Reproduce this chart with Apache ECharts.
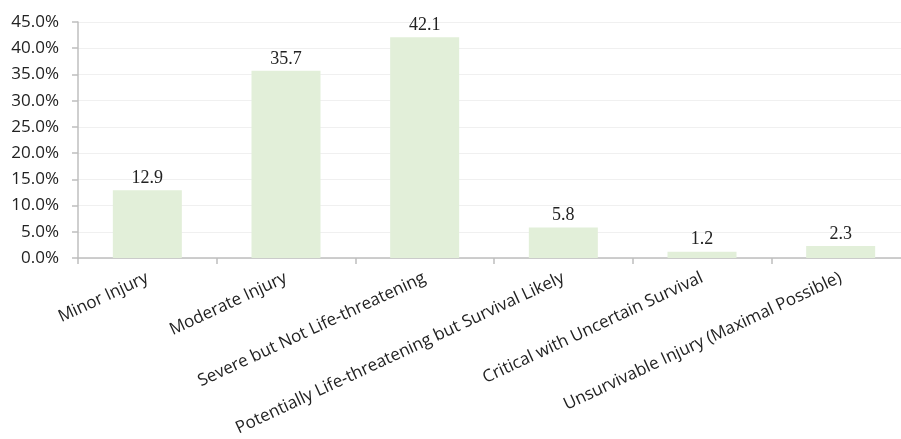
<!DOCTYPE html>
<html><head><meta charset="utf-8">
<script src="https://cdn.jsdelivr.net/npm/echarts@6/dist/echarts.min.js"></script>
<style>html,body{margin:0;padding:0;background:#fff;}#c{width:901px;height:439px;}</style>
</head><body><div id="c"></div>
<script>
const categories = ["Minor Injury","Moderate Injury","Severe but Not Life-threatening","Potentially Life-threatening but Survival Likely","Critical with Uncertain Survival","Unsurvivable Injury (Maximal Possible)"];
const values = [12.9, 35.7, 42.1, 5.8, 1.2, 2.3];
const yMin = 0, yMax = 45, yStep = 5;

const chart = echarts.init(document.getElementById('c'), null, {renderer:'canvas'});
chart.setOption({
  animation:false,
  grid:{left:78, top:22, height:236, width:832, containLabel:false, outerBoundsMode:'none'},
  xAxis:{type:'category', data:categories,
    axisLine:{lineStyle:{color:'#BFBFBF', width:1.5}},
    axisTick:{show:true, alignWithLabel:false, length:6, lineStyle:{color:'#BFBFBF', width:1.5}},
    axisLabel:{rotate:25, interval:0, color:'#222', fontFamily:'Open Sans', fontSize:17, margin:19}},
  yAxis:{type:'value', min:yMin, max:yMax, interval:yStep,
    axisLine:{show:true, lineStyle:{color:'#BFBFBF', width:1.5}},
    axisTick:{show:true, length:6, lineStyle:{color:'#BFBFBF', width:1.5}},
    splitLine:{lineStyle:{color:'#F0F0F0', width:1}},
    axisLabel:{color:'#222', fontFamily:'Open Sans', fontSize:17, margin:19, formatter:v=>v.toFixed(1)+'%'}},
  series:[{type:'bar', data:values, barWidth:69,
    itemStyle:{color:'#E2EFD9'},
    label:{show:true, position:'top', color:'#222', fontFamily:'Liberation Serif', fontSize:18, distance:3, formatter:p=>p.value.toFixed(1)}}]
});
</script></body></html>
